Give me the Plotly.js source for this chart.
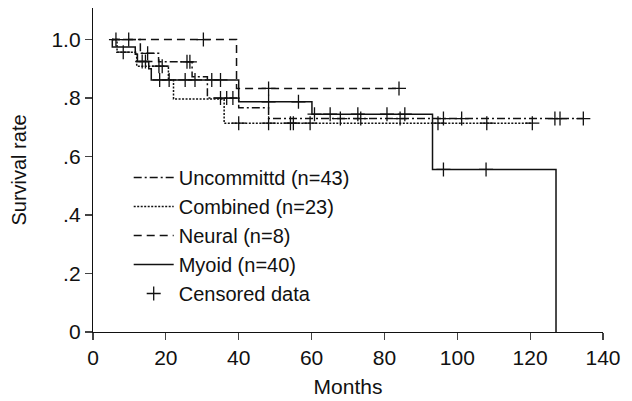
<!DOCTYPE html>
<html>
<head>
<meta charset="utf-8">
<script src="https://cdn.plot.ly/plotly-3.0.1.min.js"></script>
<style>html,body{margin:0;padding:0;background:#fff;}#chart{width:632px;height:401px;}</style>
</head>
<body>
<div id="chart"></div>
<script>
// Kaplan-Meier step data (months, survival rate)
const uncommittedMonths = [5.2, 13.0, 18.0, 27.2, 31.4, 40.0, 48.2, 134.6];
const uncommittedSurv   = [1.0, 0.953, 0.924, 0.873, 0.800, 0.767, 0.730, 0.730];
const combinedMonths = [5.2, 6.6, 12.0, 20.7, 22.1, 36.0, 120.6];
const combinedSurv   = [1.0, 0.957, 0.909, 0.862, 0.797, 0.714, 0.714];
const neuralMonths = [5.2, 39.4, 84.0];
const neuralSurv   = [1.0, 0.833, 0.833];
const myoidMonths = [5.2, 5.3, 11.6, 12.2, 15.3, 16.0, 40.0, 60.1, 93.2, 127.1];
const myoidSurv   = [1.0, 0.975, 0.950, 0.925, 0.900, 0.862, 0.787, 0.745, 0.556, 0.0];

// Censored observations
const censUncMonths = [6.3, 15.0, 25.8, 26.6, 35.0, 36.7, 38.4, 67.9, 73.5, 84.3, 96.2, 101.2, 126.8, 128.2, 134.6];
const censUncSurv   = [1.0, 0.953, 0.924, 0.924, 0.800, 0.800, 0.800, 0.730, 0.730, 0.730, 0.730, 0.730, 0.730, 0.730, 0.730];
const censComMonths = [8.3, 18.1, 19.0, 40.0, 48.2, 54.2, 55.0, 59.6, 94.7, 108.1, 120.6];
const censComSurv   = [0.957, 0.909, 0.909, 0.714, 0.714, 0.714, 0.714, 0.714, 0.714, 0.714, 0.714];
const censNeuMonths = [9.8, 30.3, 48.2, 84.0];
const censNeuSurv   = [1.0, 1.0, 0.833, 0.833];
const censMyoMonths = [13.5, 14.4, 18.3, 20.9, 25.3, 28.0, 32.6, 35.0, 48.2, 56.4, 60.8, 65.1, 72.7, 80.7, 85.6, 96.2, 107.9];
const censMyoSurv   = [0.925, 0.925, 0.862, 0.862, 0.862, 0.862, 0.862, 0.862, 0.787, 0.787, 0.745, 0.745, 0.745, 0.745, 0.745, 0.556, 0.556];

const seriesNames = ['Uncommittd (n=43)', 'Combined (n=23)', 'Neural (n=8)', 'Myoid (n=40)', 'Censored data'];
const yTickVals = [0, 0.2, 0.4, 0.6, 0.8, 1.0];
const yTickText = ['0', '.2', '.4', '.6', '.8', '1.0'];
const xTickVals = [0, 20, 40, 60, 80, 100, 120, 140];

const FONT = 'Liberation Sans, Arial, sans-serif';
function stepTrace(x, y, name, dash) {
  return {x: x, y: y, name: name, type: 'scatter', mode: 'lines',
    line: {shape: 'hv', color: '#111', width: 1.5, dash: dash}, hoverinfo: 'skip'};
}
const traces = [
  stepTrace(uncommittedMonths, uncommittedSurv, seriesNames[0], '8px,3px,2px,3px'),
  stepTrace(combinedMonths, combinedSurv, seriesNames[1], '2px,1.5px'),
  stepTrace(neuralMonths, neuralSurv, seriesNames[2], '8px,5px'),
  stepTrace(myoidMonths, myoidSurv, seriesNames[3], 'solid'),
  {x: [].concat(censUncMonths, censComMonths, censNeuMonths, censMyoMonths),
   y: [].concat(censUncSurv, censComSurv, censNeuSurv, censMyoSurv),
   name: seriesNames[4], type: 'scatter', mode: 'markers',
   marker: {symbol: 'cross-thin', size: 10, color: '#111', line: {color: '#111', width: 1.3}},
   hoverinfo: 'skip'}
];
const layout = {
  width: 632, height: 401,
  margin: {l: 93, r: 29, t: 8, b: 69},
  paper_bgcolor: '#fff', plot_bgcolor: '#fff',
  font: {family: FONT, size: 21, color: '#111'},
  showlegend: true,
  legend: {x: 0.07, y: 0.537, xanchor: 'left', yanchor: 'top', bgcolor: 'rgba(0,0,0,0)',
    font: {family: FONT, size: 20, color: '#111'}, tracegroupgap: 0, itemwidth: 40},
  xaxis: {range: [0, 140], tickvals: xTickVals, ticks: 'outside', ticklen: 7, tickwidth: 1.2,
    showline: true, linecolor: '#111', linewidth: 1.2, showgrid: false, zeroline: false,
    tickfont: {family: FONT, size: 21},
    title: {text: 'Months', font: {family: FONT, size: 21}, standoff: 10}},
  yaxis: {range: [0, 1.108], tickvals: yTickVals, ticktext: yTickText, ticks: 'outside', ticklen: 7, tickwidth: 1.2,
    showline: true, linecolor: '#111', linewidth: 1.2, showgrid: false, zeroline: false,
    tickfont: {family: FONT, size: 21},
    title: {text: 'Survival rate', font: {family: FONT, size: 20}, standoff: 19}}
};
Plotly.newPlot('chart', traces, layout, {displayModeBar: false, staticPlot: true});
</script>
</body>
</html>
